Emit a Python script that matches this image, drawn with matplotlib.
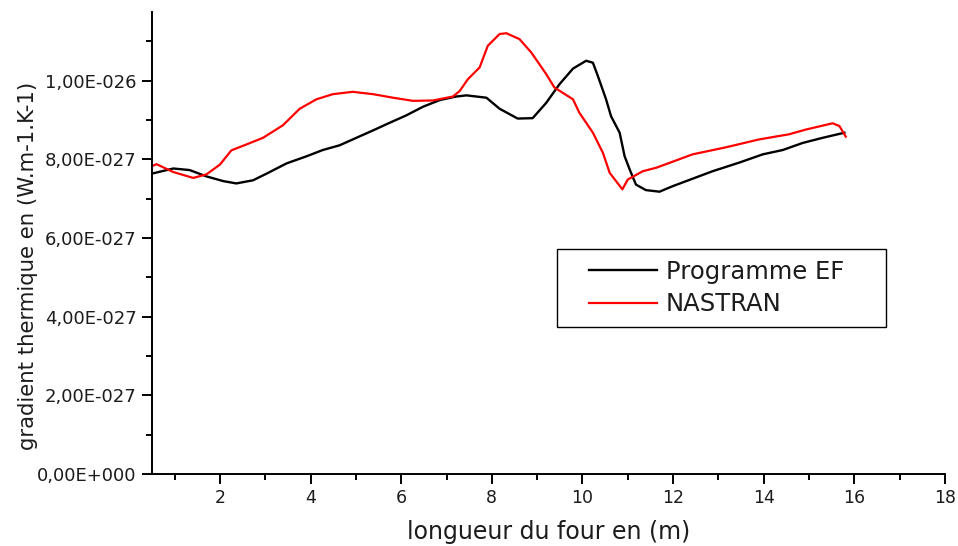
import matplotlib
matplotlib.use("Agg")
import matplotlib.pyplot as plt
from matplotlib.patches import Rectangle
from matplotlib.ticker import FixedLocator, FixedFormatter, MultipleLocator

# ---- data (y values in units of 1e-27) ----
ef_x = [0.50, 0.97, 1.33, 1.70, 2.07, 2.36, 2.73, 3.03, 3.47, 3.91, 4.27, 4.64, 5.01, 5.38,
        5.74, 6.11, 6.48, 6.85, 7.21, 7.44, 7.88, 8.17, 8.57, 8.90, 9.20, 9.49, 9.79, 10.08,
        10.23, 10.34, 10.52, 10.63, 10.82, 10.93, 11.04, 11.18, 11.40, 11.70, 11.99, 12.43,
        12.87, 13.46, 13.98, 14.42, 14.86, 15.30, 15.78]
ef_y = [7.64, 7.77, 7.73, 7.57, 7.45, 7.39, 7.47, 7.64, 7.90, 8.08, 8.24, 8.36, 8.55, 8.74,
        8.93, 9.12, 9.34, 9.51, 9.60, 9.63, 9.57, 9.29, 9.04, 9.05, 9.44, 9.91, 10.31, 10.51,
        10.46, 10.12, 9.53, 9.10, 8.68, 8.08, 7.75, 7.36, 7.22, 7.18, 7.32, 7.51,
        7.70, 7.92, 8.13, 8.24, 8.42, 8.55, 8.68]

nas_x = [0.50, 0.60, 0.97, 1.41, 1.70, 2.00, 2.25, 2.58, 2.95, 3.39, 3.76, 4.13, 4.49, 4.93,
         5.38, 5.82, 6.26, 6.70, 7.14, 7.29, 7.47, 7.73, 7.91, 8.17, 8.32, 8.61, 8.87, 9.05,
         9.20, 9.38, 9.79, 9.93, 10.23, 10.45, 10.60, 10.88, 11.00, 11.33, 11.63, 12.43,
         13.17, 13.90, 14.56, 14.93, 15.52, 15.67, 15.81]
nas_y = [7.83, 7.88, 7.68, 7.53, 7.62, 7.87, 8.23, 8.38, 8.55, 8.87, 9.29, 9.53, 9.66, 9.72,
         9.66, 9.57, 9.49, 9.50, 9.60, 9.74, 10.04, 10.34, 10.89, 11.19, 11.21, 11.06, 10.72, 10.42,
         10.17, 9.83, 9.53, 9.19, 8.68, 8.17, 7.66, 7.24, 7.49, 7.70, 7.79, 8.13,
         8.31, 8.51, 8.64, 8.76, 8.92, 8.85, 8.58]

series_labels = ["Programme EF", "NASTRAN"]
x_ticks = [2, 4, 6, 8, 10, 12, 14, 16, 18]
y_ticks = [0, 2e-27, 4e-27, 6e-27, 8e-27, 1e-26]
y_tick_labels = ["0,00E+000", "2,00E-027", "4,00E-027", "6,00E-027", "8,00E-027", "1,00E-026"]
x_label = "longueur du four en (m)"
y_label = "gradient thermique en (W.m-1.K-1)"

scale = 1e-27
txt = "#1c1c1c"

fig = plt.figure(figsize=(9.58, 5.46), dpi=100)
ax = fig.add_axes([152/958, 1-474/546, (945-152)/958, (474-12)/546])

ax.plot(ef_x, [v*scale for v in ef_y], color="black", lw=1.7, label=series_labels[0])
ax.plot(nas_x, [v*scale for v in nas_y], color="#ff0000", lw=1.6, label=series_labels[1])

ax.set_xlim(0.5, 18)
ax.set_ylim(0, 1.175e-26)
ax.xaxis.set_major_locator(FixedLocator(x_ticks))
ax.xaxis.set_minor_locator(MultipleLocator(1))
ax.yaxis.set_major_locator(FixedLocator(y_ticks))
ax.yaxis.set_major_formatter(FixedFormatter(y_tick_labels))
ax.yaxis.set_minor_locator(MultipleLocator(1e-27))

for s in ["top", "right"]:
    ax.spines[s].set_visible(False)
for s in ["left", "bottom"]:
    ax.spines[s].set_linewidth(1.4)

ax.tick_params(which="major", direction="out", length=7, width=1.4, labelcolor=txt)
ax.tick_params(which="minor", direction="out", length=4, width=1.4)
ax.tick_params(axis="y", which="major", labelsize=13, pad=4)
ax.tick_params(axis="x", which="major", labelsize=12.5, pad=4)

ax.set_xlabel(x_label, fontsize=17, color=txt, labelpad=9)
ax.set_ylabel(y_label, fontsize=15.3, color=txt)
ax.yaxis.set_label_coords((38-152)/793, (474-266)/462)

ax.add_patch(Rectangle(((557-152)/793, (474-327)/462), (886-557)/793, (327-249)/462,
                       transform=ax.transAxes, fill=False, lw=1.0, ec="black", zorder=5))
leg = ax.legend(loc="upper left", bbox_to_anchor=((589-152)/793, (474-260)/462),
                frameon=False, fontsize=17.5, handlelength=2.8, handletextpad=0.35,
                borderpad=0, borderaxespad=0, labelspacing=0.33)
for t in leg.get_texts():
    t.set_color(txt)

fig.savefig("out.png", dpi=100)
